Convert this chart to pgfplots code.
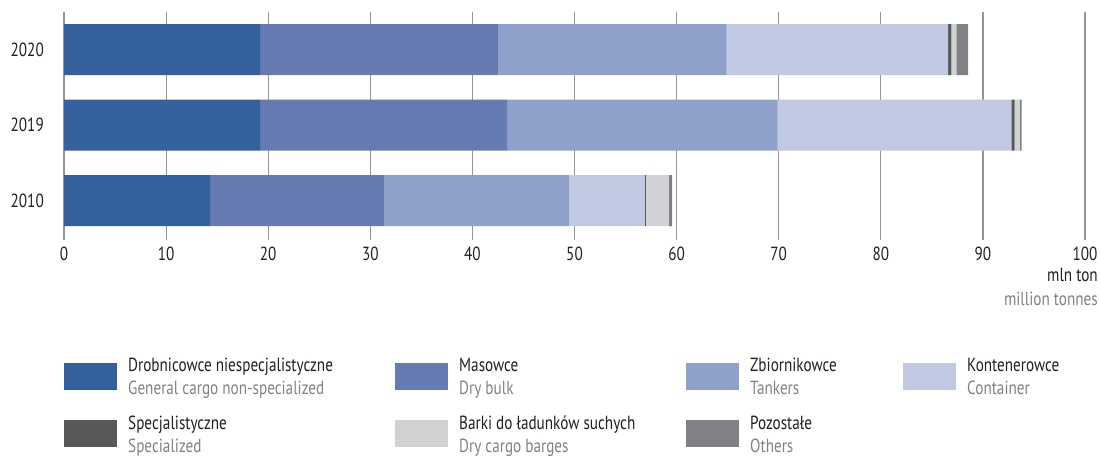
\documentclass[border=0pt]{standalone}
\usepackage{pgfplots}
\usepackage{pgfplotstable}
\pgfplotsset{compat=1.18}
\usepackage{fontspec}
\setmainfont{PT Sans}[FakeStretch=0.8]
\definecolor{cGen}{HTML}{35609E}
\definecolor{cDry}{HTML}{657BB2}
\definecolor{cTank}{HTML}{8FA0CA}
\definecolor{cCont}{HTML}{C1C8E2}
\definecolor{cSpec}{HTML}{58585A}
\definecolor{cBarge}{HTML}{D1D2D4}
\definecolor{cOther}{HTML}{808184}
\definecolor{gridc}{HTML}{959595}
\definecolor{txt}{HTML}{231F20}
\definecolor{txtg}{HTML}{808285}
\newcommand{\fs}{\fontsize{19bp}{22bp}\selectfont}
\pgfplotstableread{
y gen dry tank cont spec barge other
0 14.3 17.1 18.1 7.4 0.1 2.25 0.3
1 19.2 24.2 26.5 22.9 0.3 0.5 0.2
2 19.2 23.3 22.4 21.7 0.3 0.5 1.15
}\data
\begin{document}
\begin{tikzpicture}
\path[use as bounding box] (0,0) rectangle (1100bp,456bp);
\begin{axis}[
  at={(64bp,216bp)}, anchor=south west,
  scale only axis, width=1021bp, height=228bp,
  xbar stacked, bar width=51bp,
  xmin=0, xmax=100, ymin=-0.52, ymax=2.5,
  xtick={0,10,...,100}, ytick={0,1,2}, yticklabels={2010,2019,2020},
  xmajorgrids, grid style={draw=gridc, line width=1.2bp},
  axis line style={draw=none}, major tick length=0pt, tick style={draw=none},
  /pgf/number format/assume math mode=true,
  ticklabel style={font=\fs, text=txt},
  xticklabel style={anchor=north, inner sep=0pt, yshift=-7bp},
  yticklabel style={anchor=east, inner sep=0pt, xshift=-20bp},
  clip=false,
]
\addplot[fill=cGen, draw=none] table[x=gen, y=y] {\data};
\addplot[fill=cDry, draw=none] table[x=dry, y=y] {\data};
\addplot[fill=cTank, draw=none] table[x=tank, y=y] {\data};
\addplot[fill=cCont, draw=none] table[x=cont, y=y] {\data};
\addplot[fill=cSpec, draw=none] table[x=spec, y=y] {\data};
\addplot[fill=cBarge, draw=none] table[x=barge, y=y] {\data};
\addplot[fill=cOther, draw=none] table[x=other, y=y] {\data};
\end{axis}
\node[anchor=base east, inner sep=0pt, font=\fs, text=txt] at (1098bp,174bp) {mln ton};
\node[anchor=base east, inner sep=0pt, font=\fs, text=txtg] at (1098bp,150bp) {million tonnes};
% legend
\foreach \sx/\sy/\col/\la/\lb in {
  64/66/cGen/Drobnicowce niespecjalistyczne/General cargo non-specialized,
  395/66/cDry/Masowce/Dry bulk,
  686/66/cTank/Zbiornikowce/Tankers,
  903/66/cCont/Kontenerowce/Container,
  64/9/cSpec/Specjalistyczne/Specialized,
  395/9/cBarge/Barki do ładunków suchych/Dry cargo barges,
  686/9/cOther/Pozostałe/Others}{
  \fill[\col] (\sx bp,\sy bp) rectangle ++(53bp,27bp);
  \node[anchor=base west, inner sep=0pt, font=\fs, text=txt] at ({\sx bp+64bp},{\sy bp+18bp}) {\la};
  \node[anchor=base west, inner sep=0pt, font=\fs, text=txtg] at ({\sx bp+64bp},{\sy bp-5bp}) {\lb};
}
\end{tikzpicture}
\end{document}
